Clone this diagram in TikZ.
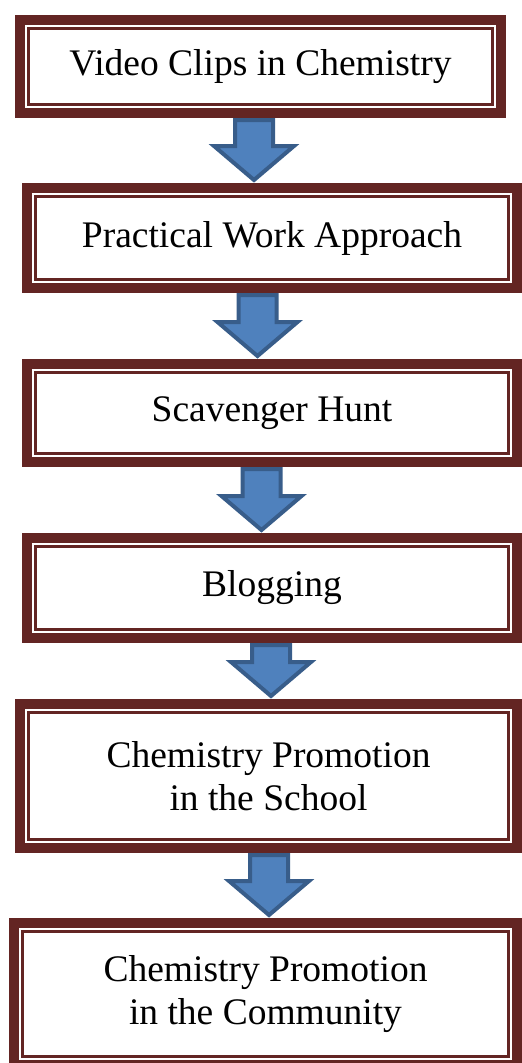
\documentclass[tikz,border=0pt]{standalone}
\usepackage{fontspec}
\setmainfont{Liberation Serif}
\usetikzlibrary{positioning,calc}
\definecolor{boxred}{RGB}{99,37,35}
\definecolor{arrowfill}{RGB}{79,129,189}
\definecolor{arrowedge}{RGB}{56,93,138}

\begin{document}
\begin{tikzpicture}[x=1pt, y=-1pt, node distance={65pt},
    stage/.style = {draw=boxred, line width=10pt, inner sep=0pt, align=center, font=\fontsize{37.5}{43}\selectfont},
    innerline/.style = {draw=boxred, line width=2.2pt},
    flow/.style = {draw=arrowedge, fill=arrowfill, line width=4pt, line join=miter,
      to path={let \p1=(\tikztostart), \p2=(\tikztotarget) in
        (\x1-19pt,\y1-2pt) -- (\x1+19pt,\y1-2pt) -- (\x1+19pt,\y2+37pt) -- (\x1+40pt,\y2+37pt)
        -- (\x1,\y2+3pt) -- (\x1-40pt,\y2+37pt) -- (\x1-19pt,\y2+37pt) -- cycle}}]
            \useasboundingbox (0,0) rectangle (522,1063);
            \node[stage, minimum width=481pt, minimum height=93pt] (b1) at (260.5,66.5) {Video Clips in Chemistry};
            \node[stage, minimum width=490pt, minimum height=100pt] (b2) [below=65pt of b1, xshift=11.5pt] {Practical Work Approach};
            \node[stage, minimum width=490pt, minimum height=98pt] (b3) [below=66pt of b2] {Scavenger Hunt};
            \node[stage, minimum width=490pt, minimum height=100pt] (b4) [below=66pt of b3] {Blogging};
            \node[stage, minimum width=497pt, minimum height=144pt] (b5) [below=56pt of b4, xshift=-3.5pt] {Chemistry Promotion\\in the School};
            \node[stage, minimum width=503pt, minimum height=142pt] (b6) [below=65pt of b5, xshift=-3pt] {Chemistry Promotion\\in the Community};
            \foreach \b in {b1,b2,b3,b4,b5,b6}
              \draw[innerline] ([shift={(13.5,13.5)}]\b.north west) rectangle ([shift={(-13.5,-13.5)}]\b.south east);
            \draw[flow] ([xshift=-6.5]b1.south) to (b2.north);
            \draw[flow] ([xshift=-14.5]b2.south) to (b3.north);
            \draw[flow] ([xshift=-10.5]b3.south) to (b4.north);
            \draw[flow] ([xshift=-1]b4.south) to (b5.north);
            \draw[flow] ([xshift=0.5]b5.south) to (b6.north);
\end{tikzpicture}
\end{document}
